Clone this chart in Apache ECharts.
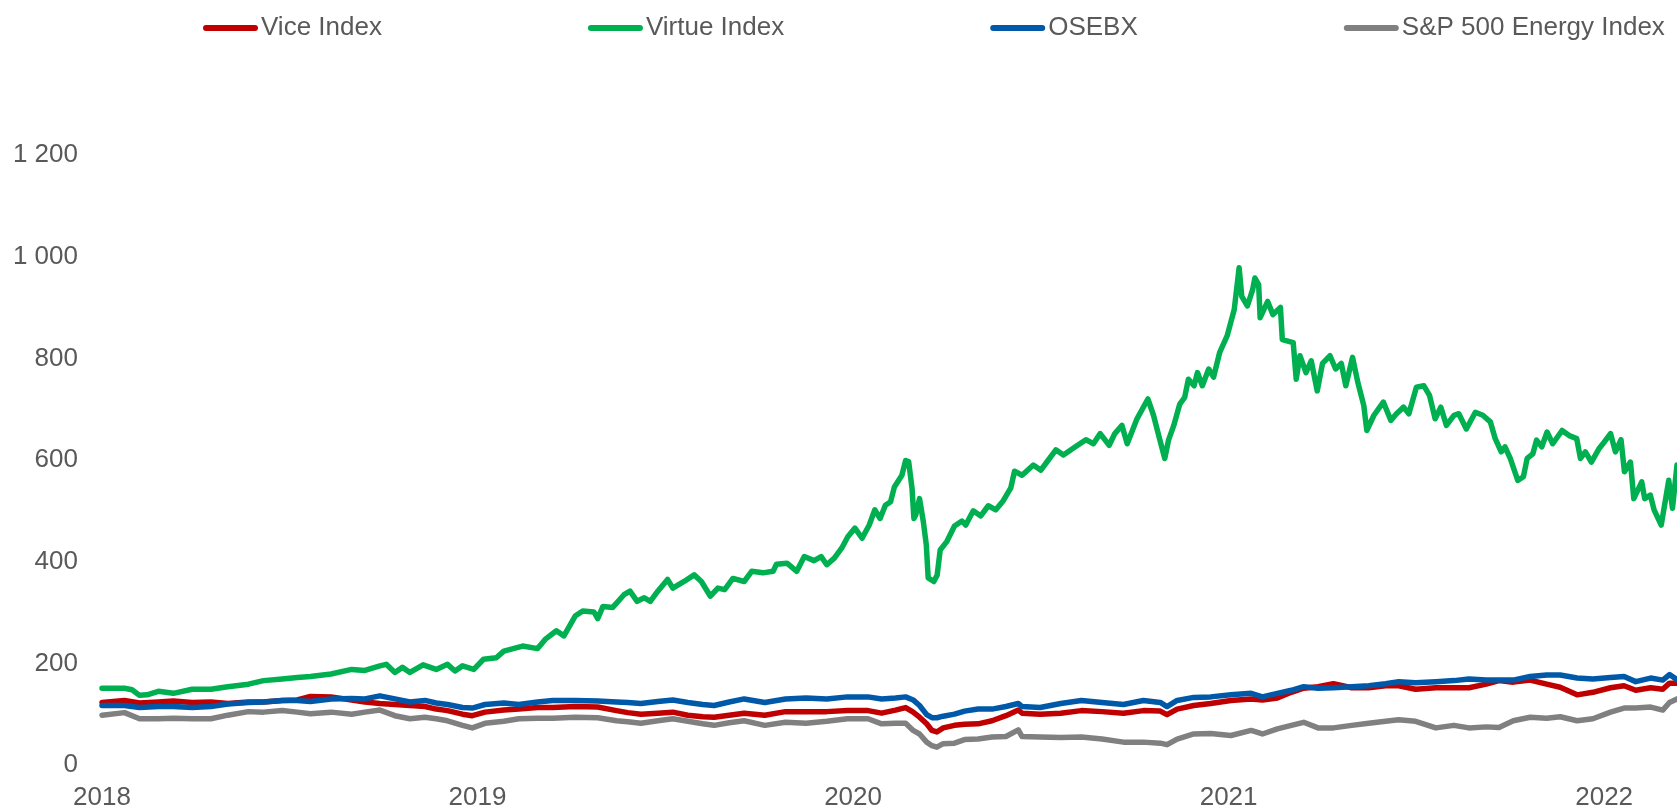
<!DOCTYPE html>
<html>
<head>
<meta charset="utf-8">
<script src="https://cdn.jsdelivr.net/npm/echarts@6/dist/echarts.min.js"></script>
<style>
html,body{margin:0;padding:0;background:#fff;}
#chart{width:1677px;height:811px;}
</style>
</head>
<body>
<div id="chart"></div>
<script>
// x positions in decimal years
const seriesNames = ['Vice Index', 'Virtue Index', 'OSEBX', 'S&P 500 Energy Index'];
const yearTicks = [2018, 2019, 2020, 2021, 2022];

const dates = [2018.00,2018.06,2018.10,2018.15,2018.19,2018.24,2018.29,2018.335,2018.39,2018.43,
2018.48,2018.52,2018.555,2018.61,2018.665,2018.70,2018.74,2018.78,2018.82,2018.86,
2018.89,2018.92,2018.96,2018.986,2019.02,2019.07,2019.11,2019.16,2019.20,2019.26,
2019.32,2019.37,2019.40,2019.435,2019.48,2019.52,2019.56,2019.60,2019.63,2019.67,
2019.71,2019.765,2019.82,2019.875,2019.93,2019.985,2020.04,2020.076,2020.113,2020.14,
2020.16,2020.177,2020.196,2020.21,2020.223,2020.24,2020.27,2020.297,2020.333,2020.37,
2020.407,2020.44,2020.45,2020.498,2020.553,2020.608,2020.663,2020.72,2020.773,2020.818,
2020.836,2020.863,2020.907,2020.952,2021.006,2021.06,2021.09,2021.13,2021.167,2021.20,
2021.238,2021.279,2021.328,2021.373,2021.418,2021.453,2021.498,2021.552,2021.60,2021.64,
2021.686,2021.72,2021.758,2021.803,2021.847,2021.883,2021.928,2021.97,2022.017,2022.053,
2022.084,2022.124,2022.156,2022.174,2022.194];

const vice = [123,127,122,124,126,123,124,121,124,124,
127,128,135,134,128,124,121,119,117,115,
110,107,100,97,104,108,110,113,113,115,
114,107,103,100,102,104,98,95,94,98,
102,98,105,105,105,107,107,102,108,113,
104,94,81,68,65,73,78,80,81,87,
97,108,102,100,102,107,105,102,107,106,
99,110,117,121,127,130,128,132,143,151,
154,160,152,152,156,156,149,152,152,152,
159,166,163,167,159,153,138,143,152,156,
147,152,149,161,161];

const osebx = [117,117,113,115,115,113,115,120,123,124,
127,127,125,130,131,130,136,130,124,127,
122,119,113,112,119,122,119,124,127,127,
126,124,123,121,125,128,123,119,117,124,
130,123,130,132,130,134,134,130,132,134,
128,117,99,93,93,96,100,106,110,110,
115,121,115,113,121,127,123,119,127,123,
115,127,133,134,138,141,134,141,147,154,
151,152,154,156,160,164,162,164,166,169,
167,167,167,174,177,177,171,169,172,174,
164,171,167,178,168];

const spEnergy = [98,103,91,91,92,91,91,98,105,104,
107,104,101,104,100,104,108,97,91,94,
91,87,78,73,82,86,91,92,92,94,
93,87,85,82,87,91,86,81,78,83,
87,78,84,82,86,91,91,81,82,82,
68,61,45,38,35,42,43,50,51,55,
56,69,56,55,54,55,51,45,45,43,
40,51,61,62,58,68,61,71,78,84,
73,73,78,82,86,89,86,73,78,73,
75,74,87,94,92,95,87,91,104,112,
112,114,108,123,130];

const virtueDates = [2018.00,2018.06,2018.08,2018.10,2018.12,2018.15,2018.19,2018.24,2018.29,2018.335,
2018.39,2018.43,2018.48,2018.52,2018.555,2018.61,2018.665,2018.70,2018.74,2018.757,
2018.78,2018.80,2018.82,2018.855,2018.89,2018.92,2018.94,2018.96,2018.99,2019.016,
2019.05,2019.07,2019.12,2019.16,2019.18,2019.21,2019.23,2019.26,2019.28,2019.31,
2019.32,2019.334,2019.36,2019.39,2019.406,2019.425,2019.444,2019.46,2019.48,2019.506,
2019.52,2019.55,2019.577,2019.596,2019.62,2019.64,2019.658,2019.68,2019.71,2019.73,
2019.76,2019.787,2019.796,2019.824,2019.85,2019.87,2019.896,2019.915,2019.93,2019.95,
2019.97,2019.986,2020.005,2020.024,2020.043,2020.058,2020.072,2020.086,2020.10,2020.11,
2020.13,2020.14,2020.148,2020.157,2020.162,2020.167,2020.177,2020.187,2020.195,2020.20,
2020.215,2020.224,2020.232,2020.25,2020.27,2020.29,2020.30,2020.32,2020.34,2020.36,
2020.38,2020.40,2020.42,2020.43,2020.45,2020.48,2020.50,2020.52,2020.54,2020.56,
2020.59,2020.62,2020.64,2020.658,2020.682,2020.697,2020.716,2020.73,2020.756,2020.785,
2020.80,2020.815,2020.83,2020.84,2020.854,2020.87,2020.883,2020.893,2020.908,2020.917,
2020.93,2020.947,2020.96,2020.976,2020.996,2021.015,2021.028,2021.035,2021.05,2021.064,
2021.07,2021.08,2021.084,2021.104,2021.118,2021.138,2021.143,2021.172,2021.18,2021.19,
2021.206,2021.22,2021.236,2021.25,2021.27,2021.285,2021.30,2021.312,2021.33,2021.344,
2021.36,2021.368,2021.387,2021.412,2021.432,2021.447,2021.466,2021.48,2021.50,2021.52,
2021.535,2021.55,2021.565,2021.58,2021.60,2021.613,2021.633,2021.657,2021.677,2021.697,
2021.71,2021.726,2021.736,2021.75,2021.77,2021.785,2021.795,2021.81,2021.82,2021.834,
2021.848,2021.863,2021.888,2021.907,2021.927,2021.937,2021.95,2021.966,2021.986,2022.00,
2022.017,2022.03,2022.045,2022.054,2022.07,2022.079,2022.10,2022.108,2022.123,2022.133,
2022.152,2022.172,2022.182,2022.194];

const virtue = [151,151,148,137,138,145,141,149,149,154,
159,166,169,172,174,179,188,186,195,198,
182,192,182,197,188,198,185,195,188,208,
211,224,234,229,247,264,254,293,303,301,
288,312,310,335,342,322,329,322,342,365,
348,361,374,361,332,348,345,367,361,381,
378,381,395,397,381,410,402,410,394,407,
427,449,466,446,472,502,485,511,518,547,
570,599,597,544,485,492,524,479,433,368,
361,374,423,440,470,480,472,500,490,510,
502,520,545,578,570,590,580,600,620,610,
625,640,632,652,629,652,668,632,681,720,
688,645,603,639,668,710,723,759,746,772,
746,779,763,811,844,896,978,922,903,935,
958,945,880,912,886,900,837,831,759,805,
772,795,736,790,805,779,790,746,802,753,
707,658,688,714,678,691,704,691,743,746,
727,681,704,668,688,691,661,694,688,675,
642,616,626,603,560,567,603,612,639,626,
655,632,658,648,642,603,616,596,622,635,
652,616,640,577,596,524,557,524,531,502,
472,560,505,590];

const colors = ['#C00000', '#00B050', '#0059A8', '#808080'];

function zip(xs, ys) { return xs.map((x, i) => [x, ys[i]]); }
function fmtThousands(v) { return String(v).replace(/\B(?=(\d{3})+(?!\d))/g, ' '); }

const FONT = '"Liberation Sans", Arial, sans-serif';
const chart = echarts.init(document.getElementById('chart'), null, {renderer: 'canvas'});

const seriesData = [zip(dates, vice), zip(virtueDates, virtue), zip(dates, osebx), zip(dates, spEnergy)];

chart.setOption({
  animation: false,
  backgroundColor: '#ffffff',
  textStyle: {fontFamily: FONT},
  legend: {
    data: seriesNames,
    left: 198,
    top: 10,
    itemGap: 206,
    itemWidth: 55,
    itemHeight: 6,
    icon: 'path://M3,0H52A3,3 0 0 1 52,6H3A3,3 0 0 1 3,0Z',
    textStyle: {fontSize: 26, color: '#595959', fontFamily: FONT, padding: [0, 0, 0, -2]}
  },
  grid: {left: 102, right: 0, top: 155, bottom: 43, containLabel: false},
  xAxis: {
    type: 'value',
    min: yearTicks[0],
    max: 2022.194,
    interval: 1,
    axisLine: {show: false},
    axisTick: {show: false},
    splitLine: {show: false},
    axisLabel: {
      fontSize: 26, color: '#595959', fontFamily: FONT, margin: 20,
      showMaxLabel: false,
      formatter: v => (yearTicks.indexOf(Math.round(v)) >= 0 && Math.abs(v - Math.round(v)) < 1e-6) ? String(Math.round(v)) : ''
    }
  },
  yAxis: {
    type: 'value',
    min: 0,
    max: 1200,
    interval: 200,
    axisLine: {show: false},
    axisTick: {show: false},
    splitLine: {show: false},
    axisLabel: {fontSize: 26, color: '#595959', fontFamily: FONT, margin: 24, formatter: v => fmtThousands(v)}
  },
  series: seriesNames.map((name, i) => ({
    name: name,
    type: 'line',
    data: seriesData[i],
    color: colors[i],
    showSymbol: false,
    symbol: 'none',
    smooth: false,
    lineStyle: {width: 5.5, color: colors[i], cap: 'round', join: 'round'},
    itemStyle: {color: colors[i]}
  }))
});
</script>
</body>
</html>
